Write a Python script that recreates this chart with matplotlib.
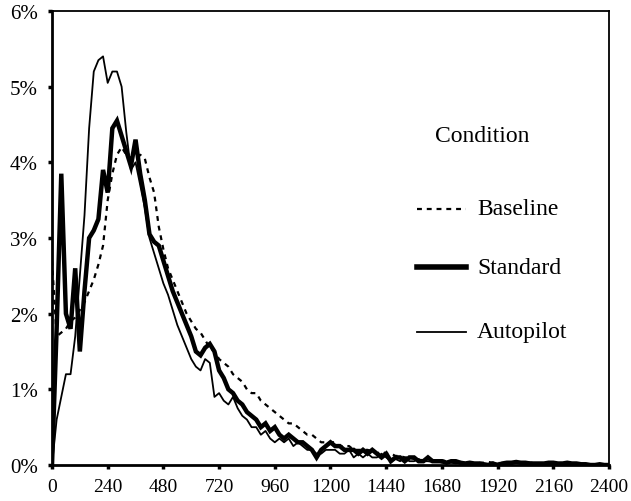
import numpy as np
import matplotlib
matplotlib.use("Agg")
import matplotlib.pyplot as plt
from matplotlib.ticker import FuncFormatter

# response time bins (ms), 20 ms wide
rt = np.arange(0, 2401, 20)

# percentage of responses in each bin
baseline = [
    2.7, 1.7, 1.75, 1.8, 1.9, 1.95, 2.05, 2.15, 2.3, 2.45,
    2.65, 2.9, 3.5, 3.85, 4.1, 4.2, 4.1, 4.05, 4.05, 4.1,
    4.05, 3.8, 3.6, 3.15, 2.85, 2.6, 2.45, 2.3, 2.15, 2.0,
    1.9, 1.8, 1.75, 1.65, 1.55, 1.5, 1.4, 1.35, 1.3, 1.2,
    1.15, 1.1, 1.0, 0.95, 0.95, 0.85, 0.8, 0.75, 0.7, 0.65,
    0.6, 0.55, 0.55, 0.5, 0.45, 0.4, 0.4, 0.35, 0.3, 0.3,
    0.3, 0.3, 0.25, 0.25, 0.25, 0.2, 0.2, 0.2, 0.2, 0.18,
    0.15, 0.18, 0.15, 0.15, 0.12, 0.12, 0.1, 0.1, 0.08, 0.08,
    0.06, 0.07, 0.06, 0.05, 0.06, 0.05, 0.04, 0.05, 0.04, 0.03,
    0.03, 0.02, 0.03, 0.03, 0.04, 0.03, 0.03, 0.02, 0.03, 0.02,
    0.03, 0.03, 0.04, 0.03, 0.03, 0.02, 0.03, 0.02, 0.02, 0.02,
    0.03, 0.02, 0.02, 0.01, 0.01, 0.01, 0.0, 0.01, 0.0, 0.0,
    0.0,
]
standard = [
    0.0, 1.8, 3.85, 2.0, 1.8, 2.6, 1.5, 2.3, 3.0, 3.1,
    3.25, 3.9, 3.6, 4.45, 4.55, 4.35, 4.15, 3.95, 4.3, 3.85,
    3.5, 3.05, 2.95, 2.9, 2.7, 2.5, 2.3, 2.15, 2.0, 1.85,
    1.7, 1.5, 1.45, 1.55, 1.6, 1.5, 1.25, 1.15, 1.0, 0.95,
    0.85, 0.8, 0.7, 0.65, 0.6, 0.5, 0.55, 0.45, 0.5, 0.4,
    0.35, 0.4, 0.35, 0.3, 0.3, 0.25, 0.2, 0.1, 0.2, 0.25,
    0.3, 0.25, 0.25, 0.2, 0.2, 0.2, 0.15, 0.2, 0.15, 0.2,
    0.15, 0.1, 0.15, 0.05, 0.1, 0.1, 0.05, 0.1, 0.1, 0.05,
    0.05, 0.1, 0.05, 0.05, 0.05, 0.03, 0.05, 0.05, 0.03, 0.02,
    0.03, 0.02, 0.02, 0.01, 0.0, 0.02, 0.0, 0.02, 0.03, 0.03,
    0.04, 0.03, 0.03, 0.02, 0.02, 0.02, 0.02, 0.03, 0.03, 0.02,
    0.02, 0.03, 0.02, 0.02, 0.01, 0.01, 0.0, 0.0, 0.01, 0.0,
    0.0,
]
autopilot = [
    0.0, 0.6, 0.9, 1.2, 1.2, 1.7, 2.5, 3.3, 4.45, 5.2,
    5.35, 5.4, 5.05, 5.2, 5.2, 5.0, 4.4, 3.9, 4.0, 3.7,
    3.4, 3.0, 2.8, 2.6, 2.4, 2.25, 2.05, 1.85, 1.7, 1.55,
    1.4, 1.3, 1.25, 1.4, 1.35, 0.9, 0.95, 0.85, 0.8, 0.9,
    0.75, 0.65, 0.6, 0.5, 0.5, 0.4, 0.45, 0.35, 0.3, 0.35,
    0.3, 0.35, 0.25, 0.3, 0.25, 0.2, 0.2, 0.15, 0.15, 0.2,
    0.2, 0.2, 0.15, 0.15, 0.2, 0.1, 0.15, 0.1, 0.15, 0.1,
    0.1, 0.15, 0.1, 0.05, 0.08, 0.05, 0.1, 0.05, 0.05, 0.08,
    0.05, 0.05, 0.04, 0.05, 0.03, 0.04, 0.03, 0.02, 0.03, 0.02,
    0.02, 0.01, 0.02, 0.01, 0.0, 0.01, 0.02, 0.02, 0.03, 0.02,
    0.03, 0.02, 0.02, 0.02, 0.01, 0.02, 0.02, 0.02, 0.02, 0.01,
    0.02, 0.02, 0.01, 0.01, 0.01, 0.0, 0.0, 0.0, 0.01, 0.0,
    0.0,
]

x_ticks = list(range(0, 2401, 240))
y_ticks = [0, 1, 2, 3, 4, 5, 6]

plt.rcParams['font.family'] = ['Liberation Serif', 'DejaVu Serif']

fig = plt.figure(figsize=(6.31, 5.02), dpi=100)
ax = fig.add_axes([0.0824, 0.0717, 0.8827, 0.9044])

ax.plot(rt, baseline, color='black', lw=1.6, ls=(0, (2.2, 2.2)))
ax.plot(rt, standard, color='black', lw=3.2, solid_joinstyle='miter')
ax.plot(rt, autopilot, color='black', lw=1.3)

ax.set_xlim(0, 2400)
ax.set_ylim(0, 6)
ax.set_xticks(x_ticks)
ax.set_yticks(y_ticks)
ax.yaxis.set_major_formatter(FuncFormatter(lambda v, p: f"{int(v)}%"))
ax.tick_params(direction='out', length=3, width=2.5)
ax.tick_params(axis='x', labelsize=14, pad=6)
ax.tick_params(axis='y', labelsize=15, pad=7)

for side in ['left', 'bottom']:
    ax.spines[side].set_linewidth(2)
for side in ['right', 'top']:
    ax.spines[side].set_linewidth(1.3)

# hand-drawn legend, as in the original figure
ax.text(0.688, 0.725, "Condition", transform=ax.transAxes, fontsize=17, va='center')
legend_rows = [("Baseline", 0.564, dict(lw=1.6, ls=(0, (2.2, 2.2)))),
               ("Standard", 0.436, dict(lw=4)),
               ("Autopilot", 0.293, dict(lw=1.3))]
for name, yy, style in legend_rows:
    ax.plot([0.655, 0.743], [yy, yy], transform=ax.transAxes, color='black', **style)
    ax.text(0.763, yy, name, transform=ax.transAxes, fontsize=17, va='center')

fig.savefig("out.png", dpi=100)
